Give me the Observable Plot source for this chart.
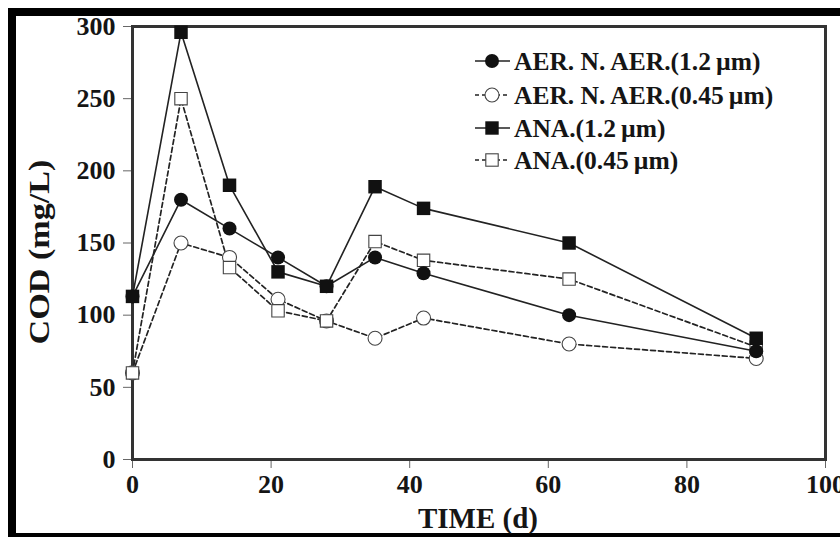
<!DOCTYPE html>
<html><head><meta charset="utf-8">
<script src="https://cdn.jsdelivr.net/npm/d3@7"></script>
<script src="https://cdn.jsdelivr.net/npm/@observablehq/plot@0.6"></script>
<style>
html,body{margin:0;padding:0;background:#fff;overflow:hidden;}
#wrap{position:relative;width:840px;height:537px;overflow:hidden;background:#fff;}
#border{position:absolute;left:8px;top:8px;width:900px;height:533px;box-sizing:border-box;border:8px solid #000;}
#chart{position:absolute;left:0;top:0;}
#legend{position:absolute;left:0;top:0;}
</style></head><body>
<div id="wrap"><div id="border"></div><div id="chart"></div><svg id="legend" width="840" height="537"></svg></div>
<script>
// ---- data ----
const days = [0, 7, 14, 21, 28, 35, 42, 63, 90];
const aer12 = [113, 180, 160, 140, 120, 140, 129, 100, 75];
const aer045 = [60, 150, 140, 111, 96, 84, 98, 80, 70];
const ana12 = [113, 296, 190, 130, 120, 189, 174, 150, 84];
const ana045 = [60, 250, 133, 103, 96, 151, 138, 125, 78];
const seriesNames = ["AER. N. AER.(1.2\u2009\u00b5m)", "AER. N. AER.(0.45\u2009\u00b5m)", "ANA.(1.2\u2009\u00b5m)", "ANA.(0.45\u2009\u00b5m)"];
const xTicks = [0, 20, 40, 60, 80, 100];
const yTicks = [0, 50, 100, 150, 200, 250, 300];
const xTitle = "TIME (d)";
const yTitle = "COD (mg/L)";

const toRows = (vals, name) => days.map((d, i) => ({day: d, value: vals[i], series: name}));
const rAer12 = toRows(aer12, seriesNames[0]);
const rAer045 = toRows(aer045, seriesNames[1]);
const rAna12 = toRows(ana12, seriesNames[2]);
const rAna045 = toRows(ana045, seriesNames[3]);

const font = "'Liberation Serif','Times New Roman',serif";
const ink = "#151515";

const chart = Plot.plot({
  width: 840, height: 537,
  marginLeft: 132, marginRight: 15, marginTop: 26, marginBottom: 78,
  style: {fontFamily: font, fontWeight: "bold", background: "transparent", color: ink},
  x: {domain: [0, 100]},
  y: {domain: [0, 300]},
  marks: [
    Plot.axisX({ticks: xTicks, tickSize: 9, tickPadding: 6, fontSize: 26, fontWeight: "bold", stroke: "#666", fill: ink, label: null}),
    Plot.axisY({ticks: yTicks, tickSize: 9, tickPadding: 8, fontSize: 26, fontWeight: "bold", stroke: "#666", fill: ink, label: null}),
    Plot.frame({stroke: "#333", strokeWidth: 3}),
    Plot.line(rAna045, {x: "day", y: "value", stroke: "#222", strokeWidth: 1.7, strokeDasharray: "5,3"}),
    Plot.line(rAer045, {x: "day", y: "value", stroke: "#222", strokeWidth: 1.7, strokeDasharray: "5,3"}),
    Plot.line(rAna12, {x: "day", y: "value", stroke: "#222", strokeWidth: 1.6}),
    Plot.line(rAer12, {x: "day", y: "value", stroke: "#222", strokeWidth: 1.6}),
    Plot.dot(rAer045, {x: "day", y: "value", r: 7, fill: "white", stroke: "#444", strokeWidth: 1.1}),
    Plot.dot(rAna045, {x: "day", y: "value", symbol: "square", r: 7, fill: "white", stroke: "#444", strokeWidth: 1.1}),
    Plot.dot(rAer12, {x: "day", y: "value", r: 7, fill: "#111", stroke: "none"}),
    Plot.dot(rAna12, {x: "day", y: "value", symbol: "square", r: 7.6, fill: "#111", stroke: "none"})
  ]
});
document.getElementById("chart").appendChild(chart);

// ---- titles and legend (overlay) ----
const lg = d3.select("#legend");
lg.append("text").attr("transform", "translate(38,252) rotate(-90)")
  .attr("text-anchor", "middle").attr("dy", "0.35em")
  .attr("font-family", font).attr("font-weight", "bold").attr("font-size", 30).attr("fill", ink)
  .attr("textLength", 185).attr("lengthAdjust", "spacingAndGlyphs")
  .text(yTitle);
lg.append("text").attr("x", 478).attr("y", 528)
  .attr("text-anchor", "middle")
  .attr("font-family", font).attr("font-weight", "bold").attr("font-size", 29).attr("fill", ink)
  .text(xTitle);

const rowsY = [61, 95, 128, 160];
const styles = [
  {dash: null, shape: "circle", fill: "#111"},
  {dash: "4,3", shape: "circle", fill: "white"},
  {dash: null, shape: "square", fill: "#111"},
  {dash: "4,3", shape: "square", fill: "white"}
];
seriesNames.forEach((name, i) => {
  const y = rowsY[i], s = styles[i];
  const g = lg.append("g");
  g.append("line").attr("x1", 475).attr("x2", 510).attr("y1", y).attr("y2", y)
    .attr("stroke", "#222").attr("stroke-width", 1.7).attr("stroke-dasharray", s.dash);
  if (s.shape === "circle") {
    g.append("circle").attr("cx", 492).attr("cy", y).attr("r", 7)
      .attr("fill", s.fill).attr("stroke", s.fill === "white" ? "#444" : "none").attr("stroke-width", 1.1);
  } else {
    const h = s.fill === "white" ? 6.2 : 6.7;
    g.append("rect").attr("x", 492 - h).attr("y", y - h).attr("width", 2 * h).attr("height", 2 * h)
      .attr("fill", s.fill).attr("stroke", s.fill === "white" ? "#444" : "none").attr("stroke-width", 1.1);
  }
  g.append("text").attr("x", 514).attr("y", y).attr("dy", "0.35em")
    .attr("font-family", font).attr("font-weight", "bold").attr("font-size", 25.5).attr("fill", ink)
    .text(name);
});
</script>
</body></html>
